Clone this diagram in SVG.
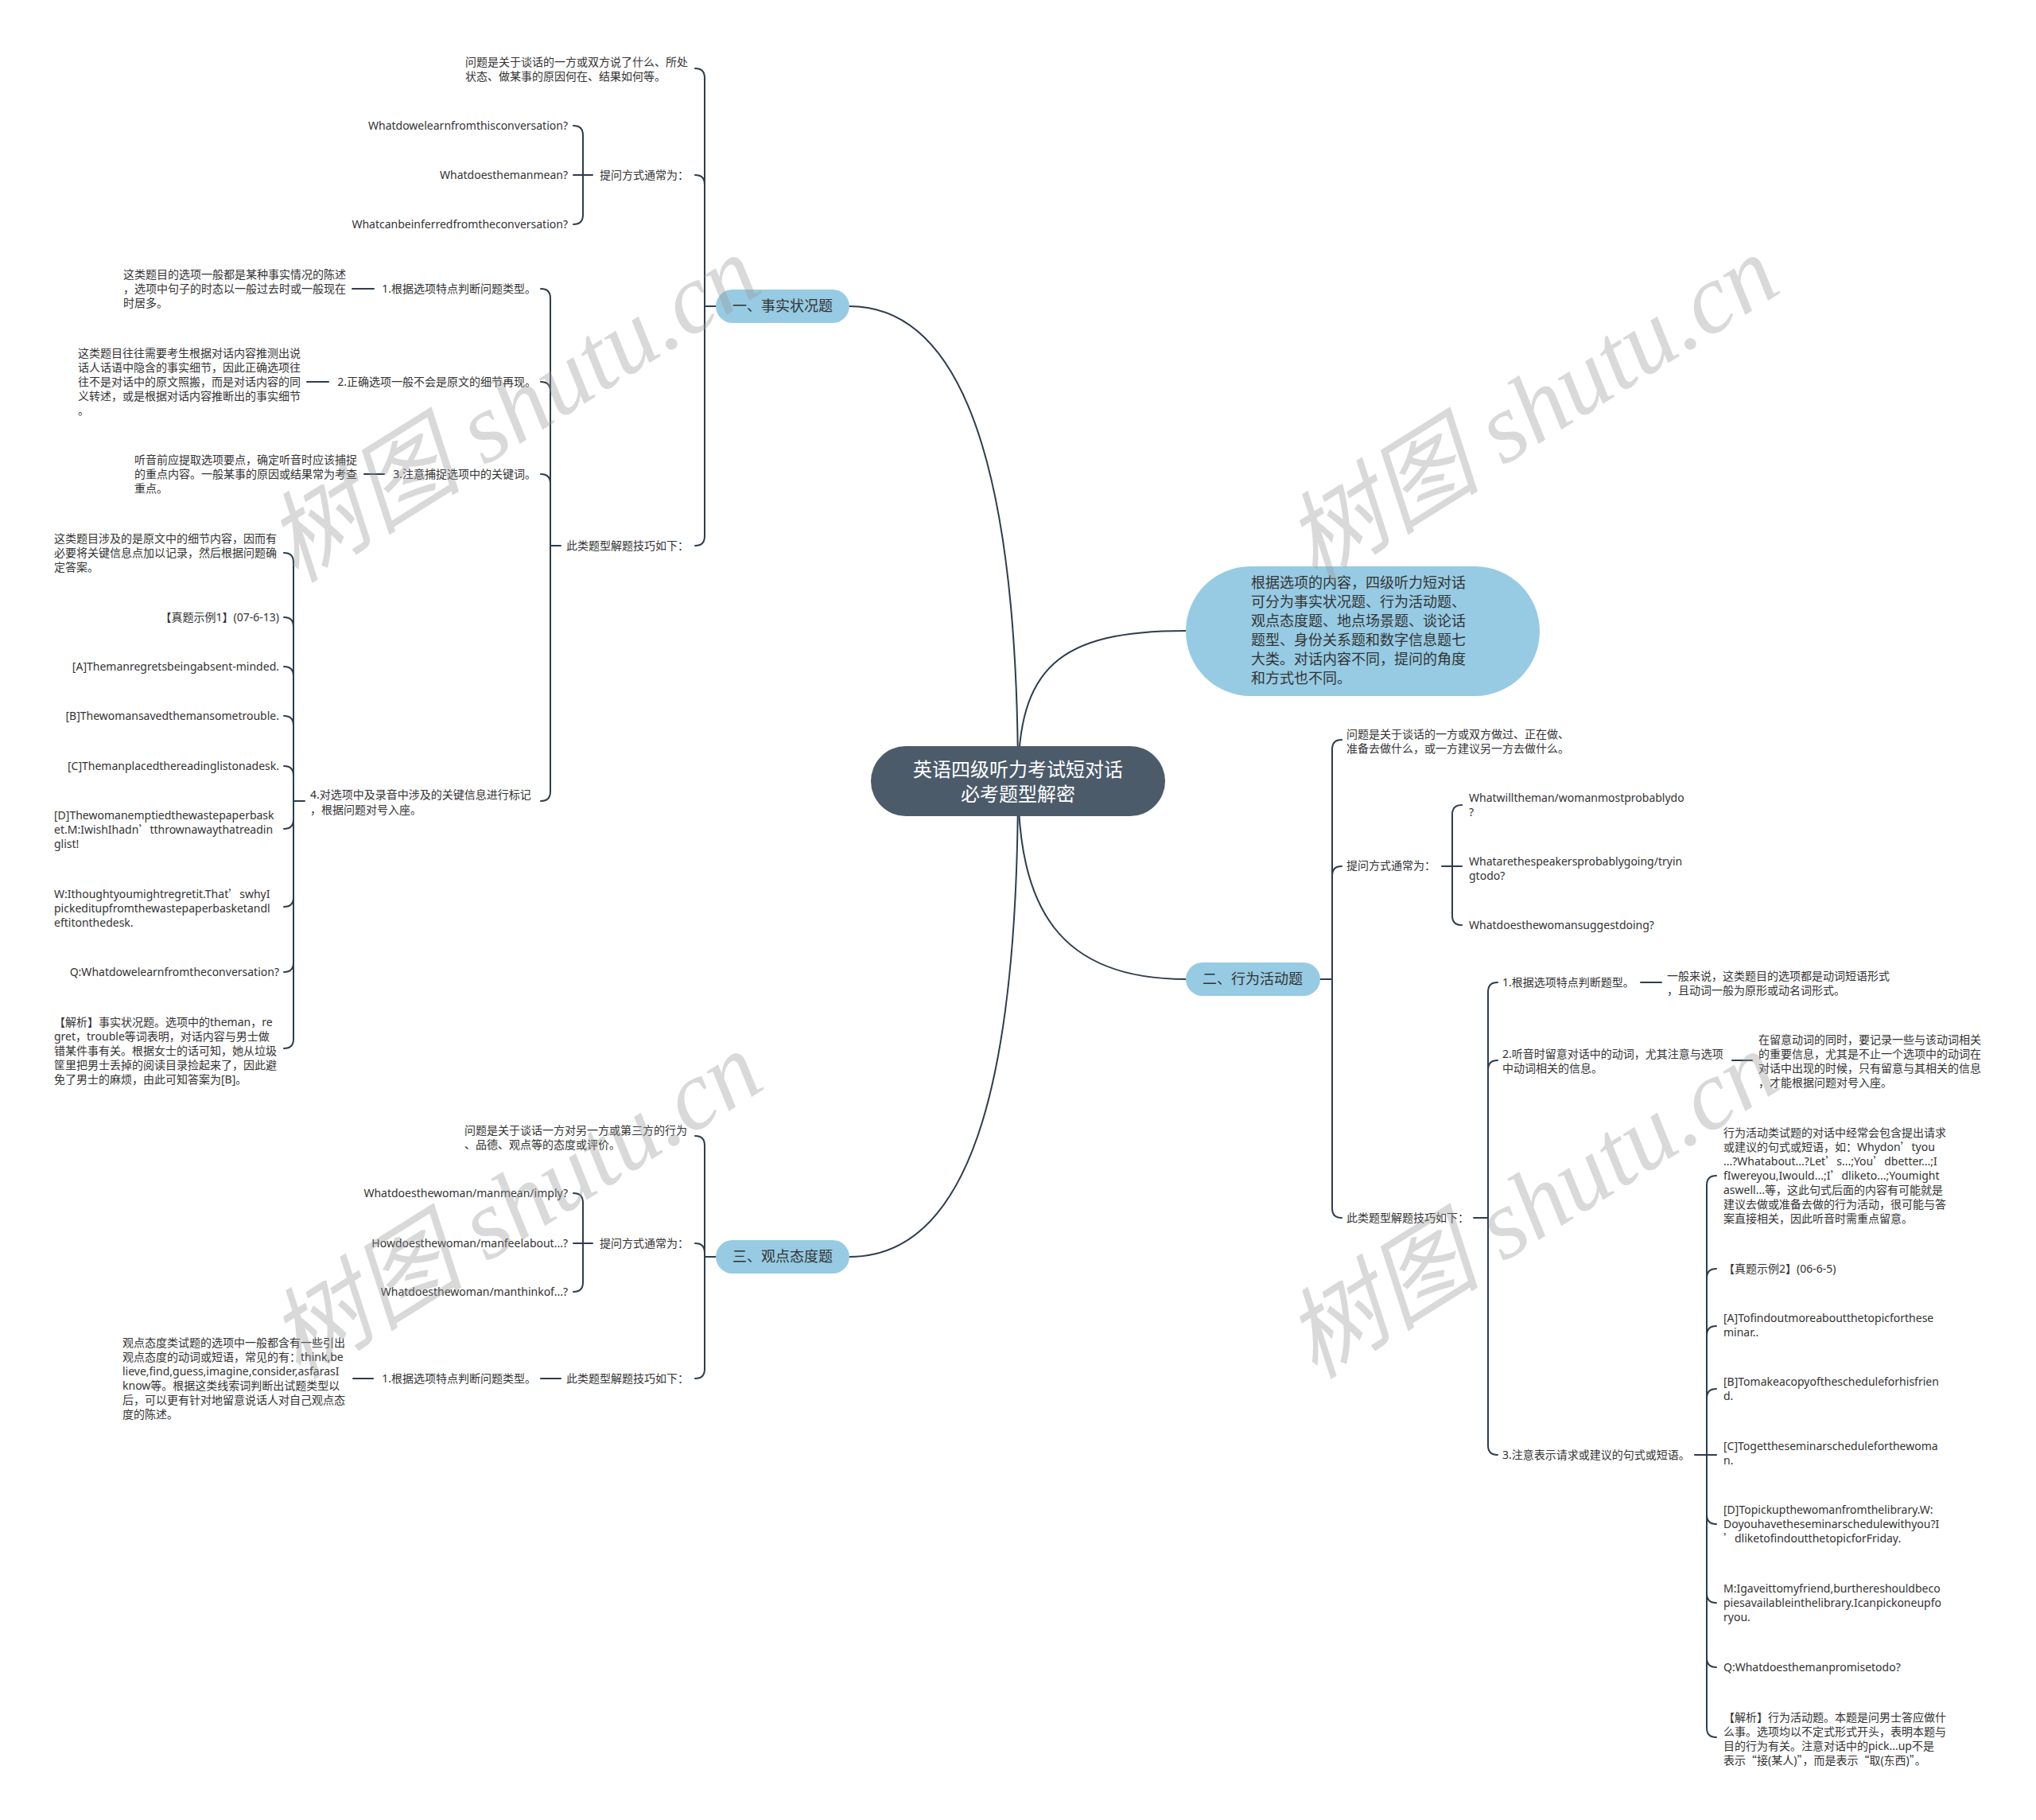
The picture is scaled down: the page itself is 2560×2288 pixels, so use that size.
<svg xmlns="http://www.w3.org/2000/svg" width="2560" height="2288" viewBox="0 0 2560 2288">
<style>
.t{font-family:"Noto Sans","Noto Sans CJK SC",sans-serif;font-size:14px;fill:#333}
.e{text-anchor:end}
.cj{font-family:"Noto Sans CJK SC",sans-serif}
.nb{fill:#96cbe3}
.nt{font-family:"Noto Sans","Noto Sans CJK SC",sans-serif;font-size:18px;fill:#333;text-anchor:middle}
.c path{fill:none;stroke:#2e3d4c;stroke-width:2;stroke-linecap:round}
.wm{font-family:"Liberation Serif","Noto Sans CJK SC",serif;font-style:italic;font-size:124px;fill:#9a9a9a;opacity:0.37;text-anchor:middle}
</style>
<rect width="2560" height="2288" fill="#fff"/>
<g class="c" id="connectors">
<path d="M1280,982 C1280,650 1230,385 1068,385"/>
<path d="M1280,982 C1280,840 1330,793 1491,793"/>
<path d="M1280,982 C1280,1140 1330,1231 1491,1231"/>
<path d="M1280,982 C1280,1330 1230,1580 1068,1580"/>
<path d="M900,385 H886"/>
<path d="M886,385 V98 Q886,86 874,86"/>
<path d="M886,385 V232 Q886,220 874,220"/>
<path d="M886,385 V674 Q886,686 874,686"/>
<path d="M745,220 H733"/>
<path d="M733,220 V170 Q733,158 721,158"/>
<path d="M733,220 H721"/>
<path d="M733,220 V270 Q733,282 721,282"/>
<path d="M705,686 H692"/>
<path d="M692,686 V375 Q692,363 680,363"/>
<path d="M692,686 V492 Q692,480 680,480"/>
<path d="M692,686 V608 Q692,596 680,596"/>
<path d="M692,686 V995 Q692,1007 680,1007"/>
<path d="M470,363 H443"/>
<path d="M413,480 H386"/>
<path d="M483,596 H458"/>
<path d="M383,1007 H369"/>
<path d="M369,1007 V707 Q369,695 357,695"/>
<path d="M369,1007 V788 Q369,776 357,776"/>
<path d="M369,1007 V850 Q369,838 357,838"/>
<path d="M369,1007 V912 Q369,900 357,900"/>
<path d="M369,1007 V975 Q369,963 357,963"/>
<path d="M369,1007 V1030 Q369,1042 357,1042"/>
<path d="M369,1007 V1128 Q369,1140 357,1140"/>
<path d="M369,1007 V1210 Q369,1222 357,1222"/>
<path d="M369,1007 V1306 Q369,1318 357,1318"/>
<path d="M900,1580 H886"/>
<path d="M886,1580 V1440 Q886,1428 874,1428"/>
<path d="M886,1580 V1575 Q886,1563 874,1563"/>
<path d="M886,1580 V1721 Q886,1733 874,1733"/>
<path d="M745,1563 H733"/>
<path d="M733,1563 V1512 Q733,1500 721,1500"/>
<path d="M733,1563 H721"/>
<path d="M733,1563 V1612 Q733,1624 721,1624"/>
<path d="M705,1733 H680"/>
<path d="M469,1733 H444"/>
<path d="M1660,1231 H1675"/>
<path d="M1675,1231 V942 Q1675,930 1687,930"/>
<path d="M1675,1231 V1101 Q1675,1089 1687,1089"/>
<path d="M1675,1231 V1519 Q1675,1531 1687,1531"/>
<path d="M1813,1089 H1826"/>
<path d="M1826,1089 V1024 Q1826,1012 1838,1012"/>
<path d="M1826,1089 H1838"/>
<path d="M1826,1089 V1151 Q1826,1163 1838,1163"/>
<path d="M1853,1531 H1871"/>
<path d="M1871,1531 V1247 Q1871,1235 1883,1235"/>
<path d="M1871,1531 V1345 Q1871,1333 1883,1333"/>
<path d="M1871,1531 V1817 Q1871,1829 1883,1829"/>
<path d="M2063,1235 H2089"/>
<path d="M2178,1333 H2203"/>
<path d="M2131,1829 H2146"/>
<path d="M2146,1829 V1490 Q2146,1478 2158,1478"/>
<path d="M2146,1829 V1607 Q2146,1595 2158,1595"/>
<path d="M2146,1829 V1679 Q2146,1667 2158,1667"/>
<path d="M2146,1829 V1758 Q2146,1746 2158,1746"/>
<path d="M2146,1829 H2158"/>
<path d="M2146,1829 V1904 Q2146,1916 2158,1916"/>
<path d="M2146,1829 V2003 Q2146,2015 2158,2015"/>
<path d="M2146,1829 V2084 Q2146,2096 2158,2096"/>
<path d="M2146,1829 V2172 Q2146,2184 2158,2184"/>
</g>
<g id="center">
<rect x="1095" y="938" width="370" height="88" rx="44" fill="#4c5b6a"/>
<text x="1280" y="976" font-family="Noto Sans CJK SC,sans-serif" font-size="24" fill="#fff" text-anchor="middle">英语四级听力考试短对话</text>
<text x="1280" y="1007" font-family="Noto Sans CJK SC,sans-serif" font-size="24" fill="#fff" text-anchor="middle">必考题型解密</text>
</g>
<g id="intro">
<rect class="nb" x="1491" y="712" width="445" height="163" rx="81.5"/>
<text class="t" style="font-size:18px"><tspan x="1573" y="739">根据选项的内容，四级听力短对话</tspan><tspan x="1573" y="763">可分为事实状况题、行为活动题、</tspan><tspan x="1573" y="787">观点态度题、地点场景题、谈论话</tspan><tspan x="1573" y="811">题型、身份关系题和数字信息题七</tspan><tspan x="1573" y="835">大类。对话内容不同，提问的角度</tspan><tspan x="1573" y="859">和方式也不同。</tspan></text>
</g>
<g id="branch-1">
<rect class="nb" x="900" y="364" width="168" height="42" rx="21"/>
<text class="nt" x="984" y="391">一、事实状况题</text>
</g>
<g id="b1-desc"><text class="t"><tspan x="585" y="83">问题是关于谈话的一方或双方说了什么、所处</tspan><tspan x="585" y="101">状态、做某事的原因何在、结果如何等。</tspan></text></g>
<g id="b1-ask"><text class="t e" x="866" y="225">提问方式通常为：</text></g>
<g id="b1-q1"><text class="t e" x="714" y="163">Whatdowelearnfromthisconversation?</text></g>
<g id="b1-q2"><text class="t e" x="714" y="225">Whatdoesthemanmean?</text></g>
<g id="b1-q3"><text class="t e" x="714" y="287">Whatcanbeinferredfromtheconversation?</text></g>
<g id="b1-tips"><text class="t e" x="866" y="691">此类题型解题技巧如下：</text></g>
<g id="b1-t1"><text class="t e" x="674" y="368">1.根据选项特点判断问题类型。</text></g>
<g id="b1-t1d"><text class="t"><tspan x="155" y="350">这类题目的选项一般都是某种事实情况的陈述</tspan><tspan x="155" y="368">，选项中句子的时态以一般过去时或一般现在</tspan><tspan x="155" y="386">时居多。</tspan></text></g>
<g id="b1-t2"><text class="t e" x="674" y="485">2.正确选项一般不会是原文的细节再现。</text></g>
<g id="b1-t2d"><text class="t"><tspan x="98" y="449">这类题目往往需要考生根据对话内容推测出说</tspan><tspan x="98" y="467">话人话语中隐含的事实细节，因此正确选项往</tspan><tspan x="98" y="485">往不是对话中的原文照搬，而是对话内容的同</tspan><tspan x="98" y="503">义转述，或是根据对话内容推断出的事实细节</tspan><tspan x="98" y="521">。</tspan></text></g>
<g id="b1-t3"><text class="t e" x="674" y="601">3.注意捕捉选项中的关键词。</text></g>
<g id="b1-t3d"><text class="t"><tspan x="169" y="583">听音前应提取选项要点，确定听音时应该捕捉</tspan><tspan x="169" y="601">的重点内容。一般某事的原因或结果常为考查</tspan><tspan x="169" y="619">重点。</tspan></text></g>
<g id="b1-t4"><text class="t"><tspan x="390" y="1004">4.对选项中及录音中涉及的关键信息进行标记</tspan><tspan x="390" y="1023">，根据问题对号入座。</tspan></text></g>
<g id="b1-t4a"><text class="t"><tspan x="68" y="682">这类题目涉及的是原文中的细节内容，因而有</tspan><tspan x="68" y="700">必要将关键信息点加以记录，然后根据问题确</tspan><tspan x="68" y="718">定答案。</tspan></text></g>
<g id="b1-t4b"><text class="t e" x="351" y="781">【真题示例1】(07-6-13)</text></g>
<g id="b1-t4c"><text class="t e" x="351" y="843">[A]Themanregretsbeingabsent-minded.</text></g>
<g id="b1-t4d"><text class="t e" x="351" y="905">[B]Thewomansavedthemansometrouble.</text></g>
<g id="b1-t4e"><text class="t e" x="351" y="968">[C]Themanplacedthereadinglistonadesk.</text></g>
<g id="b1-t4f"><text class="t"><tspan x="68" y="1030">[D]Thewomanemptiedthewastepaperbask</tspan><tspan x="68" y="1048">et.M:IwishIhadn<tspan class="cj">’</tspan>tthrownawaythatreadin</tspan><tspan x="68" y="1066">glist!</tspan></text></g>
<g id="b1-t4g"><text class="t"><tspan x="68" y="1129">W:Ithoughtyoumightregretit.That<tspan class="cj">’</tspan>swhyI</tspan><tspan x="68" y="1147">pickeditupfromthewastepaperbasketandl</tspan><tspan x="68" y="1165">eftitonthedesk.</tspan></text></g>
<g id="b1-t4h"><text class="t e" x="351" y="1227">Q:Whatdowelearnfromtheconversation?</text></g>
<g id="b1-t4i"><text class="t"><tspan x="68" y="1290">【解析】事实状况题。选项中的theman，re</tspan><tspan x="68" y="1308">gret，trouble等词表明，对话内容与男士做</tspan><tspan x="68" y="1326">错某件事有关。根据女士的话可知，她从垃圾</tspan><tspan x="68" y="1344">筐里把男士丢掉的阅读目录捡起来了，因此避</tspan><tspan x="68" y="1362">免了男士的麻烦，由此可知答案为[B]。</tspan></text></g>
<g id="branch-3">
<rect class="nb" x="900" y="1559" width="168" height="42" rx="21"/>
<text class="nt" x="984" y="1586">三、观点态度题</text>
</g>
<g id="b3-desc"><text class="t"><tspan x="584" y="1426">问题是关于谈话一方对另一方或第三方的行为</tspan><tspan x="584" y="1444">、品德、观点等的态度或评价。</tspan></text></g>
<g id="b3-ask"><text class="t e" x="866" y="1568">提问方式通常为：</text></g>
<g id="b3-q1"><text class="t e" x="714" y="1505">Whatdoesthewoman/manmean/imply?</text></g>
<g id="b3-q2"><text class="t e" x="714" y="1568">Howdoesthewoman/manfeelabout...?</text></g>
<g id="b3-q3"><text class="t e" x="714" y="1629">Whatdoesthewoman/manthinkof...?</text></g>
<g id="b3-tips"><text class="t e" x="866" y="1738">此类题型解题技巧如下：</text></g>
<g id="b3-t1"><text class="t e" x="674" y="1738">1.根据选项特点判断问题类型。</text></g>
<g id="b3-t1d"><text class="t"><tspan x="154" y="1693">观点态度类试题的选项中一般都含有一些引出</tspan><tspan x="154" y="1711">观点态度的动词或短语，常见的有：think,be</tspan><tspan x="154" y="1729">lieve,find,guess,imagine,consider,asfarasI</tspan><tspan x="154" y="1747">know等。根据这类线索词判断出试题类型以</tspan><tspan x="154" y="1765">后，可以更有针对地留意说话人对自己观点态</tspan><tspan x="154" y="1783">度的陈述。</tspan></text></g>
<g id="branch-2">
<rect class="nb" x="1491" y="1210" width="169" height="42" rx="21"/>
<text class="nt" x="1575" y="1237">二、行为活动题</text>
</g>
<g id="b2-desc"><text class="t"><tspan x="1693" y="928">问题是关于谈话的一方或双方做过、正在做、</tspan><tspan x="1693" y="946">准备去做什么，或一方建议另一方去做什么。</tspan></text></g>
<g id="b2-ask"><text class="t" x="1693" y="1093">提问方式通常为：</text></g>
<g id="b2-q1"><text class="t"><tspan x="1847" y="1008">Whatwilltheman/womanmostprobablydo</tspan><tspan x="1847" y="1026">?</tspan></text></g>
<g id="b2-q2"><text class="t"><tspan x="1847" y="1088">Whatarethespeakersprobablygoing/tryin</tspan><tspan x="1847" y="1106">gtodo?</tspan></text></g>
<g id="b2-q3"><text class="t" x="1847" y="1168">Whatdoesthewomansuggestdoing?</text></g>
<g id="b2-tips"><text class="t" x="1693" y="1536">此类题型解题技巧如下：</text></g>
<g id="b2-t1"><text class="t" x="1889" y="1240">1.根据选项特点判断题型。</text></g>
<g id="b2-t1d"><text class="t"><tspan x="2096" y="1232">一般来说，这类题目的选项都是动词短语形式</tspan><tspan x="2096" y="1250">，且动词一般为原形或动名词形式。</tspan></text></g>
<g id="b2-t2"><text class="t"><tspan x="1889" y="1330">2.听音时留意对话中的动词，尤其注意与选项</tspan><tspan x="1889" y="1348">中动词相关的信息。</tspan></text></g>
<g id="b2-t2d"><text class="t"><tspan x="2211" y="1312">在留意动词的同时，要记录一些与该动词相关</tspan><tspan x="2211" y="1330">的重要信息，尤其是不止一个选项中的动词在</tspan><tspan x="2211" y="1348">对话中出现的时候，只有留意与其相关的信息</tspan><tspan x="2211" y="1366">，才能根据问题对号入座。</tspan></text></g>
<g id="b2-t3"><text class="t" x="1889" y="1834">3.注意表示请求或建议的句式或短语。</text></g>
<g id="b2-t3a"><text class="t"><tspan x="2167" y="1429">行为活动类试题的对话中经常会包含提出请求</tspan><tspan x="2167" y="1447">或建议的句式或短语，如：Whydon<tspan class="cj">’</tspan>tyou</tspan><tspan x="2167" y="1465">...?Whatabout...?Let<tspan class="cj">’</tspan>s...;You<tspan class="cj">’</tspan>dbetter...;I</tspan><tspan x="2167" y="1483">fIwereyou,Iwould...;I<tspan class="cj">’</tspan>dliketo...;Youmight</tspan><tspan x="2167" y="1501">aswell...等，这此句式后面的内容有可能就是</tspan><tspan x="2167" y="1519">建议去做或准备去做的行为活动，很可能与答</tspan><tspan x="2167" y="1537">案直接相关，因此听音时需重点留意。</tspan></text></g>
<g id="b2-t3b"><text class="t" x="2167" y="1600">【真题示例2】(06-6-5)</text></g>
<g id="b2-t3c"><text class="t"><tspan x="2167" y="1662">[A]Tofindoutmoreaboutthetopicforthese</tspan><tspan x="2167" y="1680">minar..</tspan></text></g>
<g id="b2-t3d"><text class="t"><tspan x="2167" y="1742">[B]Tomakeacopyofthescheduleforhisfrien</tspan><tspan x="2167" y="1760">d.</tspan></text></g>
<g id="b2-t3e"><text class="t"><tspan x="2167" y="1823">[C]Togettheseminarscheduleforthewoma</tspan><tspan x="2167" y="1841">n.</tspan></text></g>
<g id="b2-t3f"><text class="t"><tspan x="2167" y="1903">[D]Topickupthewomanfromthelibrary.W:</tspan><tspan x="2167" y="1921">Doyouhavetheseminarschedulewithyou?I</tspan><tspan x="2167" y="1939"><tspan class="cj">’</tspan>dliketofindoutthetopicforFriday.</tspan></text></g>
<g id="b2-t3g"><text class="t"><tspan x="2167" y="2002">M:Igaveittomyfriend,burthereshouldbeco</tspan><tspan x="2167" y="2020">piesavailableinthelibrary.Icanpickoneupfo</tspan><tspan x="2167" y="2038">ryou.</tspan></text></g>
<g id="b2-t3h"><text class="t" x="2167" y="2101">Q:Whatdoesthemanpromisetodo?</text></g>
<g id="b2-t3i"><text class="t"><tspan x="2167" y="2164">【解析】行为活动题。本题是问男士答应做什</tspan><tspan x="2167" y="2182">么事。选项均以不定式形式开头，表明本题与</tspan><tspan x="2167" y="2200">目的行为有关。注意对话中的pick...up不是</tspan><tspan x="2167" y="2218">表示<tspan class="cj">“</tspan>接(某人)<tspan class="cj">”</tspan>，而是表示<tspan class="cj">“</tspan>取(东西)<tspan class="cj">”</tspan>。</tspan></text></g>
<g id="watermark">
<text class="wm" transform="translate(645,514) rotate(-32)" y="42">树图 shutu.cn</text>
<text class="wm" transform="translate(1926,514) rotate(-32)" y="42">树图 shutu.cn</text>
<text class="wm" transform="translate(648,1515) rotate(-32)" y="42">树图 shutu.cn</text>
<text class="wm" transform="translate(1926,1515) rotate(-32)" y="42">树图 shutu.cn</text>
</g>
</svg>
